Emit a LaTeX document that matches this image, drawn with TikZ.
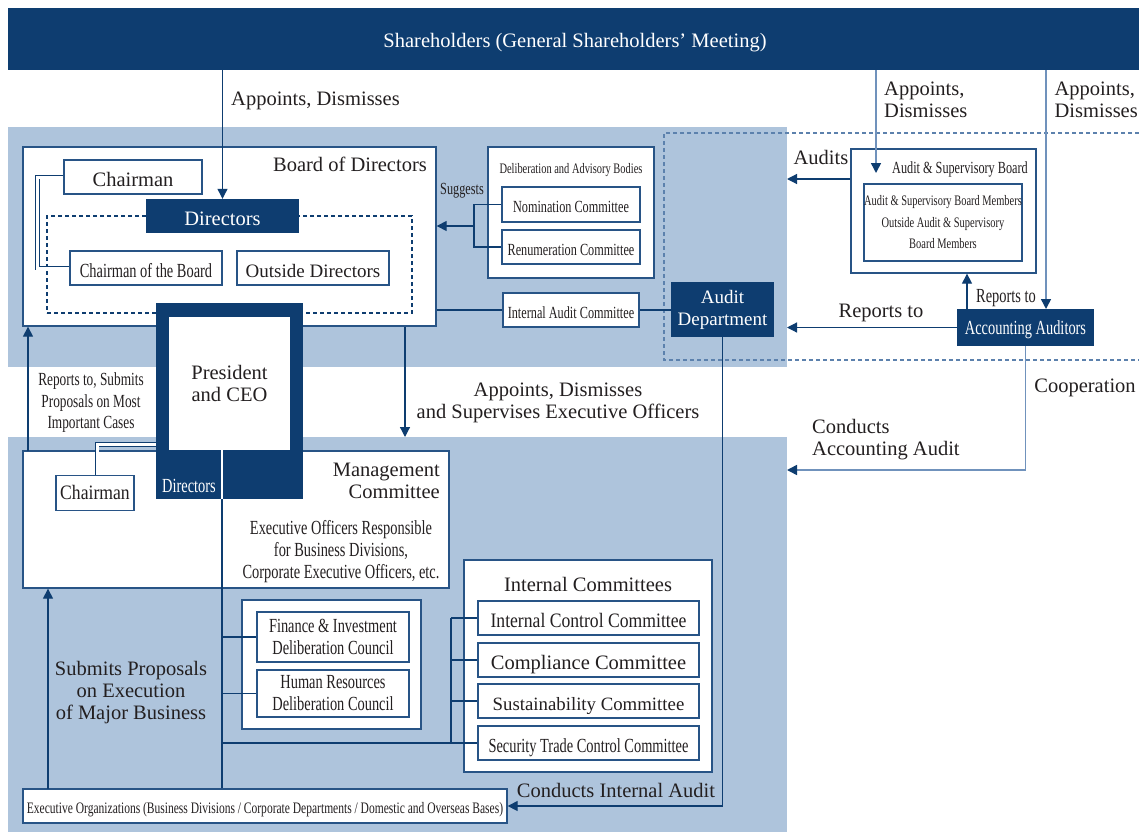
\documentclass[tikz,border=0pt]{standalone}
\usepackage{fontspec}
\setmainfont{Liberation Serif}
\newfontfamily\cond[FakeStretch=0.72]{Liberation Serif}
\newfontfamily\midc[FakeStretch=0.86]{Liberation Serif}
\usetikzlibrary{arrows.meta}
\definecolor{navy}{RGB}{14,61,112}
\definecolor{lblue}{RGB}{174,196,220}
\definecolor{bdr}{RGB}{40,84,134}
\definecolor{lline}{RGB}{112,146,188}
\definecolor{txt}{RGB}{35,31,32}
\begin{document}
\begin{tikzpicture}[x=1pt,y=-1pt,
  font={\fontsize{20.5}{22}\selectfont}, text=txt,
  box/.style={draw=bdr, fill=white, line width=1.3pt, inner sep=0pt, align=center},
  dbox/.style={fill=navy, text=white, inner sep=0pt, align=center},
  lbl/.style={inner sep=0pt, align=center},
  ln/.style={draw=navy, line width=1.2pt},
  arr/.style={ln, -{Triangle[length=10pt,width=10pt]}},
  larr/.style={draw=lline, line width=1.6pt, -{Triangle[length=10pt,width=10pt,color=navy]}},
  dbl/.style={draw=navy, line width=0.9pt, double=white, double distance=3pt},
  cnd/.style={font={\cond\fontsize{#1}{22}\selectfont}},
  cndb/.style={font={\cond\fontsize{#1}{21.5}\selectfont}},
  mid/.style={font={\midc\fontsize{#1}{22}\selectfont}},
  tA/.style={text height=15.5pt, text depth=2pt},
  tAb/.style={text height=20pt, text depth=2pt},
  tB/.style={text height=12.9pt, text depth=1.7pt},
  tBb/.style={text height=18pt, text depth=1.7pt},
  tC/.style={text height=11.2pt, text depth=1.5pt}
]
\useasboundingbox (0,0) rectangle (1139,832);
\fill[white] (0,0) rectangle (1139,832);

% background regions
\fill[lblue] (8,127) rectangle (787,367);
\fill[lblue] (8,437) rectangle (787,832);
\draw[draw=lline!80!navy, line width=1.2pt, dash pattern=on 4pt off 3pt]
  (1139,133) -- (664,133) -- (664,360) -- (1139,360);

% shareholders
\node[dbox, minimum width=1131pt, minimum height=62pt] (banner) at (573.5,39) {};
\node[lbl, tA, text=white] (bannerl) at (575,41) {Shareholders (General Shareholders’ Meeting)};
\node[lbl, tA, anchor=west] (adl) at (231,99) {Appoints, Dismisses};
\node[lbl, anchor=west, align=left] (adasb) at (884,100) {Appoints,\\Dismisses};
\node[lbl, anchor=east, align=left] (adaa) at (1138,100) {Appoints,\\Dismisses};

% board of directors
\node[box, minimum width=413pt, minimum height=179pt] (board) at (229.5,236.5) {};
\node[lbl, tA, anchor=east] (boardl) at (427,165) {Board of Directors};
\node[box, tAb, minimum width=138pt, minimum height=34pt] (chair1) at (133,177) {Chairman};
\node[draw=navy, line width=1.1pt, dash pattern=on 4pt off 3pt, minimum width=365pt, minimum height=97pt, inner sep=0pt] (dgrp) at (229.5,264.5) {};
\node[dbox, tAb, minimum width=153pt, minimum height=34pt] (dirs) at (222.5,216) {Directors};
\node[box, tAb, cnd=20, minimum width=152pt, minimum height=34pt] (chob) at (146,268) {Chairman of the Board};
\node[box, tAb, font={\fontsize{19}{22}\selectfont}, minimum width=152pt, minimum height=34pt] (outd) at (313,268) {Outside Directors};
\draw[dbl] (chair1.west) -- ++(-26,0) |- (chob.west);

% deliberation bodies
\node[box, minimum width=166pt, minimum height=131pt] (dab) at (571,212.5) {};
\node[lbl, tC, cnd=14.5] (dabl) at (571,169) {Deliberation and Advisory Bodies};
\node[box, tBb, cnd=17, minimum width=138pt, minimum height=35pt] (nom) at (571,204.5) {Nomination Committee};
\node[box, tBb, cnd=17, minimum width=138pt, minimum height=34pt] (ren) at (571,247) {Renumeration Committee};
\node[lbl, tB, cnd=17] (sugl) at (462,189) {Suggests};
\coordinate (sj) at (474,226);
\draw[ln] (nom.west) -- (sj |- nom.west) |- (ren.west);
\draw[arr] (sj) -- (sj -| board.east);

% internal audit
\node[box, tBb, cnd=17, minimum width=136pt, minimum height=34pt] (iac) at (571,310) {Internal Audit Committee};
\node[dbox, font={\fontsize{19}{22}\selectfont}, minimum width=103pt, minimum height=55pt] (auddep) at (722.5,309.5) {Audit\\Department};
\draw[ln] (board.east |- iac.west) -- (iac.west);
\draw[ln] (iac.east) -- (auddep.west |- iac.east);

% audit & supervisory board
\node[box, minimum width=185pt, minimum height=124pt] (asb) at (943.5,211) {};
\node[lbl, tB, cnd=17] (asbl) at (960,168) {Audit \& Supervisory Board};
\node[box, cndb=14.5, minimum width=158pt, minimum height=77pt] (asbin) at (943,222.5) {Audit \& Supervisory Board Members\\Outside Audit \& Supervisory\\Board Members};
\node[dbox, tA, cnd=20, minimum width=137pt, minimum height=37pt] (aa) at (1025.5,327.5) {Accounting Auditors};

\coordinate (asbA) at (876,173);
\draw[larr] (asbA |- banner.south) -- (asbA);
\coordinate (aaA) at (1046,309);
\draw[larr] (aaA |- banner.south) -- (aaA);
\coordinate (audtip) at (787,179);
\draw[arr] (asb.west |- audtip) -- (audtip);
\node[lbl, tA] (audl) at (821,158) {Audits};
\coordinate (rpx) at (967,309);
\draw[arr] (rpx) -- (rpx |- asb.south);
\node[lbl, tA, cnd=20] (rpsl) at (1006,296) {Reports to};
\coordinate (reptip) at (787,327.5);
\draw[arr] (aa.west) -- (reptip);
\node[lbl, tA] (rpl) at (881,311) {Reports to};
\coordinate (cooptip) at (787,470);
\draw[larr] (aa.south) |- (cooptip);
\node[lbl, tA] (coopl) at (1085,386) {Cooperation};
\node[lbl, anchor=west, align=left] (cal) at (812,440) {Conducts\\Accounting Audit};

% management committee
\node[box, minimum width=426pt, minimum height=137pt] (mgmt) at (236,519.5) {};
\node[lbl, anchor=east, align=right] (mgmtl) at (440,481) {Management\\Committee};
\node[lbl, cnd=20] (eol) at (341,552) {Executive Officers Responsible\\for Business Divisions,\\Corporate Executive Officers, etc.};
\node[box, tA, mid=20.5, minimum width=78pt, minimum height=35pt] (chair2) at (95,493) {Chairman};

% links board <-> management
\coordinate (bm) at (405,437);
\draw[arr] (bm |- board.south) -- (bm);
\node[lbl] (asel) at (558,403) {Appoints, Dismisses\\and Supervises Executive Officers};
\coordinate (rpu) at (28,451);
\draw[arr] (rpu) -- (rpu |- board.south);
\node[lbl, cndb=18.5] (rsl) at (91,403) {Reports to, Submits\\Proposals on Most\\Important Cases};

% president and CEO
\node[dbox, minimum width=147pt, minimum height=196pt] (ceoframe) at (229.5,401) {};
\node[fill=white, inner sep=0pt, align=center, minimum width=121pt, minimum height=133pt] (ceo) at (229.5,383.5) {President\\and CEO};
\node[lbl, tA, cnd=20, text=white] (ceodl) at (189,486) {Directors};
\coordinate (dch) at (156,444.5);
\draw[dbl] ([xshift=2pt]chair2.north) |- (dch);

% councils
\node[box, minimum width=179pt, minimum height=129pt] (fhr) at (331.5,664.5) {};
\node[box, cnd=20, minimum width=152pt, minimum height=50pt] (fin) at (333,637) {Finance \& Investment\\Deliberation Council};
\node[box, cnd=20, minimum width=152pt, minimum height=47pt] (hr) at (333,693.5) {Human Resources\\Deliberation Council};

% internal committees
\node[box, minimum width=248pt, minimum height=212pt] (ic) at (588,666) {};
\node[lbl, tA] (icl) at (588,585) {Internal Committees};
\node[box, tAb, mid=20.5, minimum width=221pt, minimum height=34pt] (icc) at (588.5,618) {Internal Control Committee};
\node[box, tAb, minimum width=221pt, minimum height=34pt] (comp) at (588.5,660) {Compliance Committee};
\node[box, tAb, font={\fontsize{18.8}{22}\selectfont}, minimum width=221pt, minimum height=34pt] (sust) at (588.5,701) {Sustainability Committee};
\node[box, tAb, cnd=20, minimum width=221pt, minimum height=34pt] (stc) at (588.5,743) {Security Trade Control Committee};

% executive organizations
\node[box, text height=17.5pt, text depth=1.6pt, cnd=16, minimum width=484pt, minimum height=34pt] (exec) at (265,806) {Executive Organizations (Business Divisions / Corporate Departments / Domestic and Overseas Bases)};
\coordinate (spx) at (48,789);
\draw[arr] (spx) -- (spx |- mgmt.south);
\node[lbl] (spl) at (131,693) {Submits Proposals\\on Execution\\of Major Business};

% vertical trunk from CEO
\coordinate (vx) at (222,450);
\draw[draw=white, line width=1.2pt] (vx) -- (vx |- ceoframe.south);
\draw[ln] (vx |- ceoframe.south) -- (vx |- exec.north);
\draw[ln] (vx |- fin.west) -- (fin.west);
\draw[ln] (vx |- hr.west) -- (hr.west);
\draw[ln] (vx |- stc.west) -- (stc.west);
\coordinate (bx) at (451,618);
\draw[ln] (bx |- icc.west) -- (icc.west);
\draw[ln] (bx |- icc.west) -- (bx |- stc.west);
\draw[ln] (bx |- comp.west) -- (comp.west);
\draw[ln] (bx |- sust.west) -- (sust.west);

% banner to directors
\draw[arr] (dirs.north |- banner.south) -- (dirs.north);

% internal audit
\draw[arr] (auddep.south) |- (exec.east);
\node[lbl, tA] (cial) at (616,791) {Conducts Internal Audit};
\end{tikzpicture}
\end{document}
